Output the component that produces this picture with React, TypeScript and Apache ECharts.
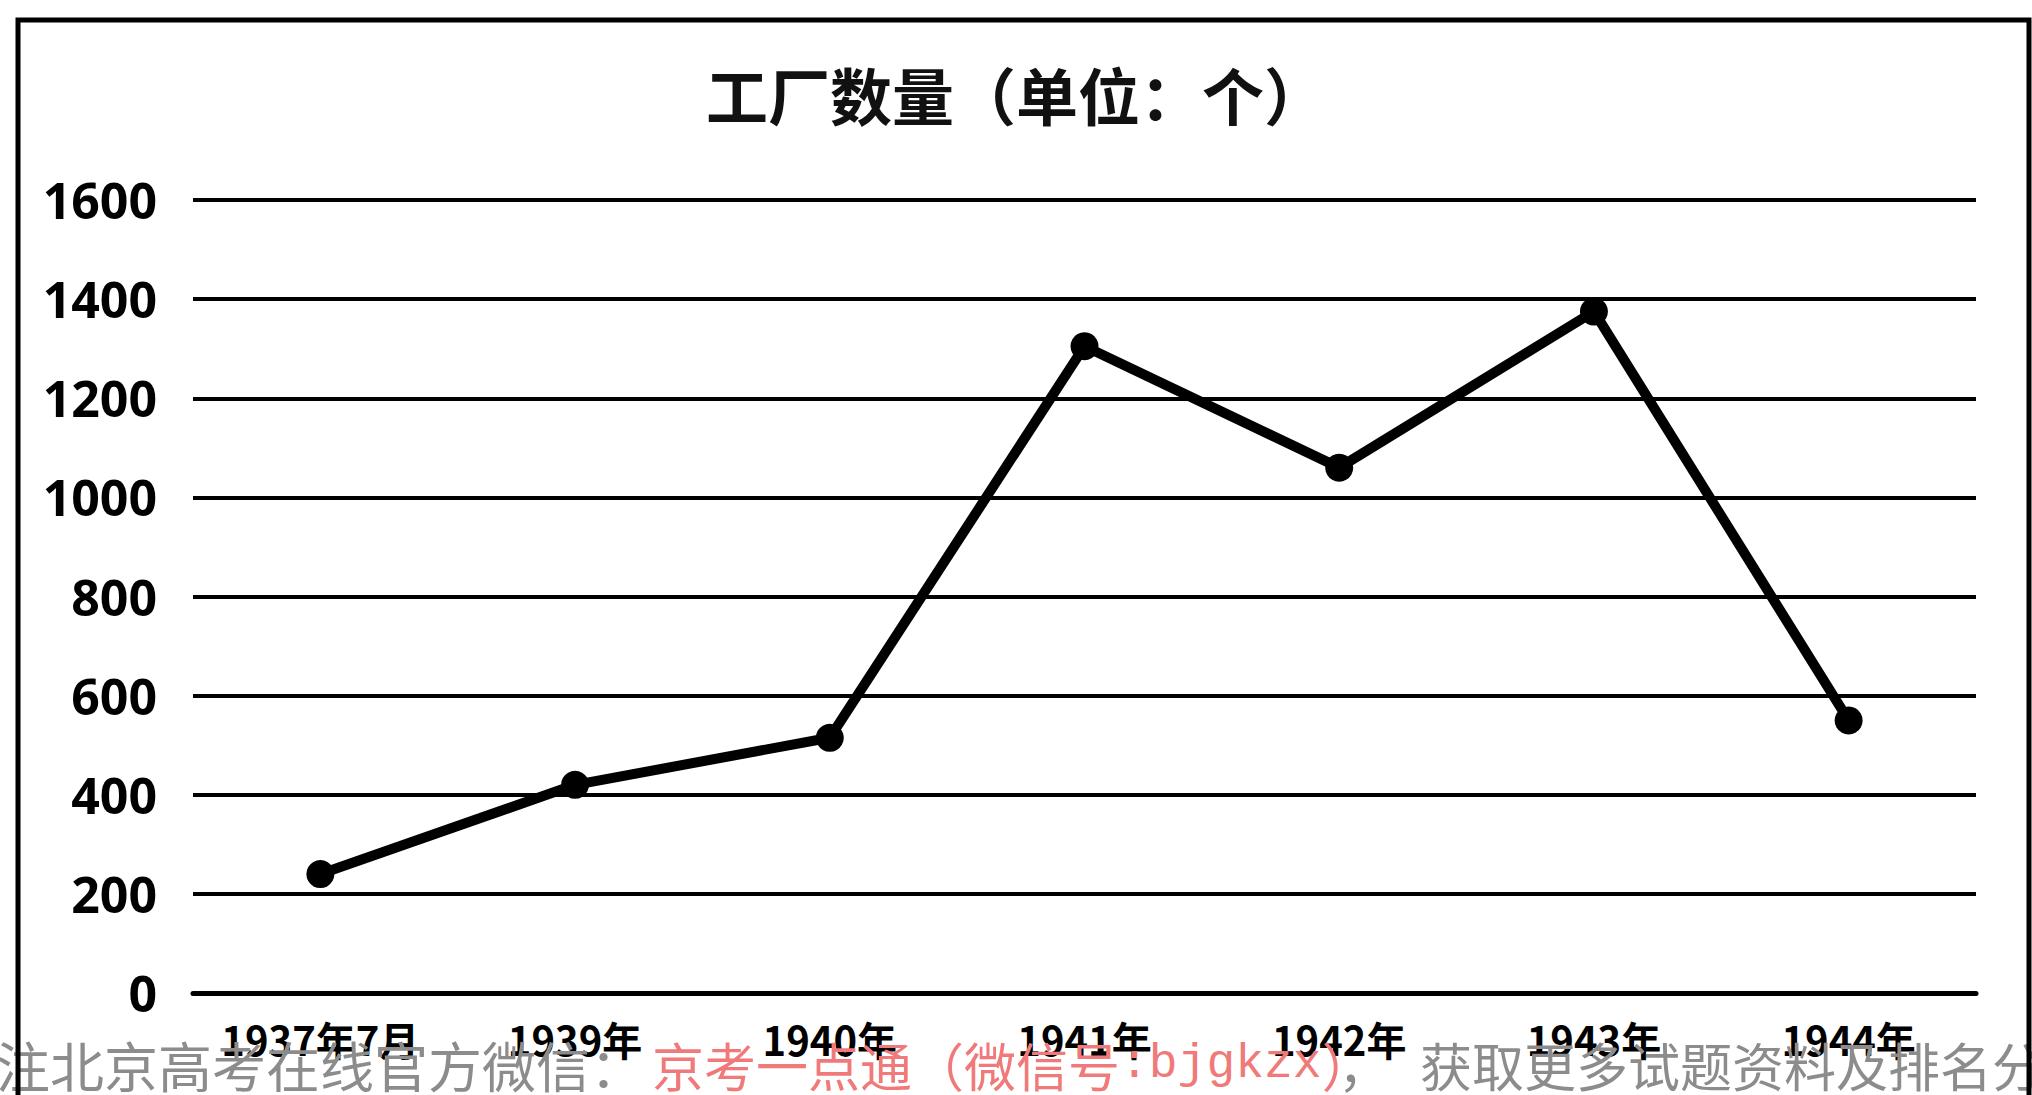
import React, { useEffect, useRef } from "react";
import * as echarts from "echarts";

const categories = ["1937年7月", "1939年", "1940年", "1941年", "1942年", "1943年", "1944年"];
const factoryCounts = [240, 420, 515, 1305, 1060, 1375, 550];
const yMin = 0;
const yMax = 1600;
const yInterval = 200;
const titleText = "工厂数量（单位：个）";
const footGrayA = "注北京高考在线官方微信：";
const footRedCjk = "京考一点通（微信号";
const footRedAscii = ":bjgkzx";
const footRedEnd = "）";
const footGrayComma = "，";
const footGrayB = "获取更多试题资料及排名分";

export default function App() {
  const ref = useRef<HTMLDivElement>(null);
  useEffect(() => {
    document.body.style.margin = "0";
    if (!ref.current) return;
    const chart = echarts.init(ref.current, null, { renderer: "svg" });
    const cjk = "'Noto Sans CJK SC', sans-serif";
    chart.setOption({
      animation: false,
      backgroundColor: "#ffffff",
      title: {
        text: titleText,
        left: "center",
        top: 58,
        textStyle: { fontFamily: cjk, fontWeight: "bold", fontSize: 62, color: "#111" },
      },
      grid: { left: 193, right: 56, top: 200, bottom: 102, containLabel: false },
      xAxis: {
        type: "category",
        data: categories,
        boundaryGap: true,
        axisLine: { show: true, lineStyle: { color: "#000", width: 5 } },
        axisTick: { show: false },
        axisLabel: {
          interval: 0,
          margin: 26,
          fontSize: 40,
          fontWeight: "bold",
          color: "#000",
          fontFamily: cjk,
        },
        splitLine: { show: false },
      },
      yAxis: {
        type: "value",
        min: yMin,
        max: yMax,
        interval: yInterval,
        axisLine: { show: false },
        axisTick: { show: false },
        axisLabel: {
          margin: 36,
          fontSize: 50,
          fontWeight: "bold",
          color: "#000",
          fontFamily: "'Open Sans', sans-serif",
          formatter: (v: number) => String(v),
        },
        splitLine: { show: true, lineStyle: { color: "#000", width: 4 } },
      },
      series: [
        {
          type: "line",
          data: factoryCounts,
          symbol: "circle",
          symbolSize: 28,
          lineStyle: { color: "#000", width: 10 },
          itemStyle: { color: "#000" },
          z: 5,
        },
      ],
      graphic: [
        {
          type: "polyline",
          shape: { points: [[18, 1095], [18, 20], [2029, 20], [2029, 1095]] },
          style: { stroke: "#000", lineWidth: 5, fill: "none" },
          z: 10,
        },
        {
          type: "text",
          x: -4,
          y: 1064,
          z: 1,
          style: {
            text: footGrayA,
            fill: "#8c8c8c",
            fontSize: 54,
            fontFamily: cjk,
            align: "left",
            verticalAlign: "middle",
          },
        },
        {
          type: "text",
          x: 652,
          y: 1064,
          z: 1,
          style: {
            text: "{a|" + footRedCjk + "}{b|" + footRedAscii + "}{a|" + footRedEnd + "}",
            fill: "#f07a7a",
            align: "left",
            verticalAlign: "middle",
            rich: {
              a: { fontSize: 52, fontFamily: cjk, fill: "#f07a7a" },
              b: { fontSize: 48, fontFamily: "'Liberation Mono', monospace", fill: "#f07a7a" },
            },
          },
        },
        {
          type: "text",
          x: 1338,
          y: 1064,
          z: 1,
          style: {
            text: footGrayComma,
            fill: "#8c8c8c",
            fontSize: 52,
            fontFamily: cjk,
            align: "left",
            verticalAlign: "middle",
          },
        },
        {
          type: "text",
          x: 1420,
          y: 1064,
          z: 1,
          style: {
            text: footGrayB,
            fill: "#8c8c8c",
            fontSize: 52,
            fontFamily: cjk,
            align: "left",
            verticalAlign: "middle",
          },
        },
      ],
    });
    return () => chart.dispose();
  }, []);
  return (
    <div
      ref={ref}
      style={{ position: "absolute", left: 0, top: 0, width: 2032, height: 1095 }}
    />
  );
}
